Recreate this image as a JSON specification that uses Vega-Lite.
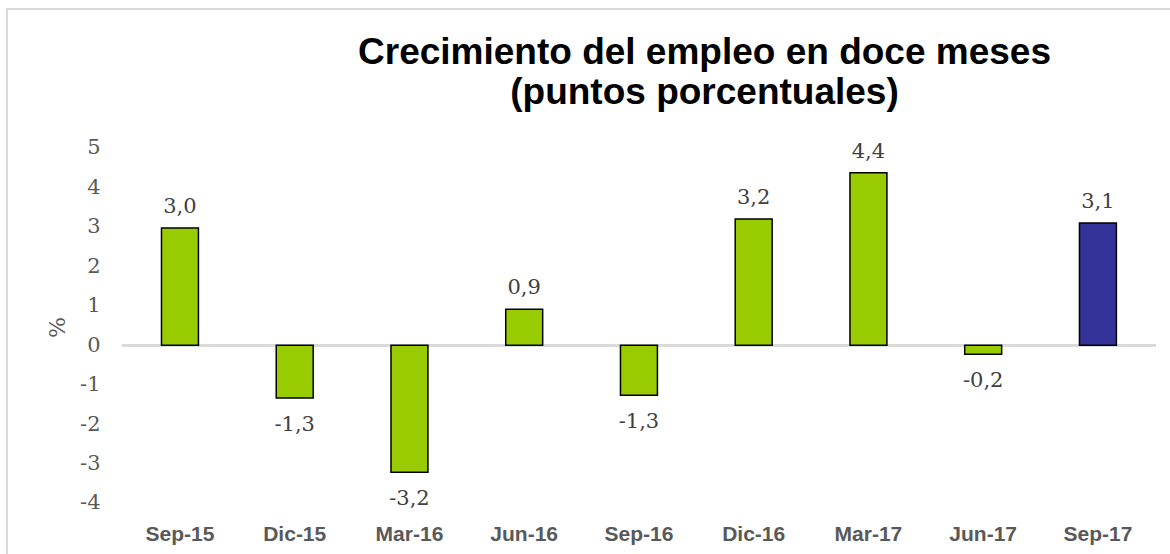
{
  "$schema": "https://vega.github.io/schema/vega-lite/v6.json",
  "autosize": {"type": "none"},
  "padding": {"left": 7, "top": 9, "right": -10, "bottom": -10},
  "width": 1173,
  "height": 555,
  "background": "white",
  "config": {
    "locale": {"number": {"decimal": ",", "thousands": ".", "grouping": [3], "currency": ["", ""], "minus": "-"}},
    "view": {"stroke": "#d9d9d9", "strokeWidth": 2}
  },
  "title": {
    "text": ["Crecimiento del empleo en doce meses", "(puntos porcentuales)"],
    "font": "Liberation Sans",
    "fontSize": 37,
    "fontWeight": "bold",
    "color": "#000000",
    "anchor": "middle",
    "frame": "group",
    "baseline": "bottom",
    "lineHeight": 40,
    "offset": -140,
    "dx": 111
  },
  "data": {
    "values": [
      {"periodo": "Sep-15", "valor": 2.97, "serie": "hist"},
      {"periodo": "Dic-15", "valor": -1.34, "serie": "hist"},
      {"periodo": "Mar-16", "valor": -3.22, "serie": "hist"},
      {"periodo": "Jun-16", "valor": 0.91, "serie": "hist"},
      {"periodo": "Sep-16", "valor": -1.27, "serie": "hist"},
      {"periodo": "Dic-16", "valor": 3.2, "serie": "hist"},
      {"periodo": "Mar-17", "valor": 4.37, "serie": "hist"},
      {"periodo": "Jun-17", "valor": -0.23, "serie": "hist"},
      {"periodo": "Sep-17", "valor": 3.1, "serie": "actual"}
    ]
  },
  "encoding": {
    "x": {
      "field": "periodo",
      "type": "nominal",
      "sort": null,
      "scale": {
        "domain": ["Sep-15", "Dic-15", "Mar-16", "Jun-16", "Sep-16", "Dic-16", "Mar-17", "Jun-17", "Sep-17"],
        "paddingInner": 0.678,
        "paddingOuter": 0.9503,
        "align": 0.7084
      },
      "axis": {
        "title": null,
        "orient": "bottom",
        "offset": -24,
        "domain": false,
        "ticks": false,
        "tickSize": 0,
        "labelPadding": 0,
        "labelBaseline": "alphabetic",
        "labelAngle": 0,
        "labelFont": "Liberation Sans",
        "labelFontWeight": "bold",
        "labelFontSize": 21,
        "labelColor": "#595959",
        "labelOverlap": false,
        "grid": false
      }
    },
    "y": {
      "field": "valor",
      "type": "quantitative",
      "scale": {"domain": [-5.547, 8.524], "nice": false, "zero": false},
      "axis": {
        "values": [-4, -3, -2, -1, 0, 1, 2, 3, 4, 5],
        "format": "d",
        "offset": -93,
        "domain": false,
        "ticks": false,
        "tickSize": 0,
        "grid": false,
        "labelPadding": 0,
        "labelFont": "DejaVu Serif",
        "labelFontSize": 21,
        "labelColor": "#595959",
        "title": "%",
        "titleFont": "DejaVu Serif",
        "titleFontSize": 22,
        "titleFontWeight": "normal",
        "titleColor": "#595959",
        "titleX": -43,
        "titleY": 318,
        "titleAlign": "center",
        "titleBaseline": "middle",
        "titleAngle": -90
      }
    }
  },
  "layer": [
    {
      "mark": {"type": "rule", "color": "#d9d9d9", "strokeWidth": 2},
      "encoding": {
        "x": {"datum": "Sep-15", "type": "nominal", "bandPosition": -1.07},
        "x2": {"datum": "Sep-17", "bandPosition": 2.07},
        "y": {"datum": 0, "type": "quantitative"}
      }
    },
    {
      "mark": {"type": "bar", "stroke": "#000000", "strokeWidth": 1.5},
      "encoding": {
        "color": {
          "field": "serie",
          "type": "nominal",
          "scale": {"domain": ["hist", "actual"], "range": ["#99cc00", "#333399"]},
          "legend": null
        }
      }
    },
    {
      "transform": [{"filter": "datum.valor > 0"}],
      "mark": {"type": "text", "baseline": "alphabetic", "dy": -15, "font": "DejaVu Serif", "fontSize": 21, "color": "#404040"},
      "encoding": {"text": {"field": "valor", "type": "quantitative", "format": ".1f"}}
    },
    {
      "transform": [{"filter": "datum.valor < 0"}],
      "mark": {"type": "text", "baseline": "alphabetic", "dy": 33, "font": "DejaVu Serif", "fontSize": 21, "color": "#404040"},
      "encoding": {"text": {"field": "valor", "type": "quantitative", "format": ".1f"}}
    }
  ]
}
